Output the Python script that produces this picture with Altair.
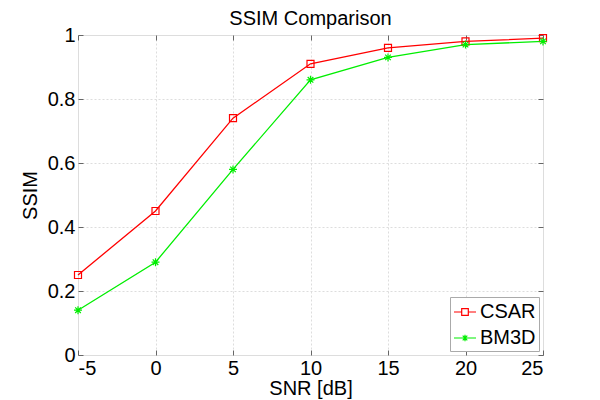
import altair as alt
import pandas as pd

snr = [-5, 0, 5, 10, 15, 20, 25]
csar = [0.25, 0.45, 0.74, 0.91, 0.96, 0.98, 0.99]
bm3d = [0.14, 0.29, 0.58, 0.86, 0.93, 0.97, 0.98]
series_names = ["CSAR", "BM3D"]
series_colors = ["#ff0000", "#00ee00"]
x_ticks = [-5, 0, 5, 10, 15, 20, 25]
y_ticks = [0, 0.2, 0.4, 0.6, 0.8, 1.0]

rows = []
for name, vals in zip(series_names, [csar, bm3d]):
    for s, v in zip(snr, vals):
        rows.append({"snr": s, "ssim": v, "series": name})
df = pd.DataFrame(rows)

W, H = 465, 320
FONT = "Liberation Sans"
FS = 20
xs = alt.Scale(domain=[-5, 25], nice=False, zero=False)
ys = alt.Scale(domain=[0, 1], nice=False)
cs = alt.Scale(domain=series_names, range=series_colors)

square = "M-1,-1H1V1H-1Z"
aster = "M0,-1V1M-1,0H1M-0.7,-0.7L0.7,0.7M-0.7,0.7L0.7,-0.7"
leg_square = "M-1,0H-0.3M0.3,0H1M-0.3,-0.3H0.3V0.3H-0.3Z"
leg_aster = "M-1,0H1M0,-0.3V0.3M-0.21,-0.21L0.21,0.21M-0.21,0.21L0.21,-0.21"


def tick_axis(orient, offset, values):
    return alt.Axis(orient=orient, offset=offset, values=values, labels=False,
                    grid=False, domain=False, ticks=True, tickSize=5,
                    tickColor="#666666", tickWidth=1, title=None)


def legend_def():
    return alt.Legend(orient="bottom-right", offset=4, title=None,
                      symbolSize=484, symbolStrokeWidth=1.2, symbolOpacity=1,
                      labelFontSize=FS, labelFont=FONT, labelColor="black",
                      labelOffset=3, fillColor="white", strokeColor="#aaaaaa",
                      padding=3, rowPadding=4)


base = alt.Chart(df)

legend_layer = base.mark_point(filled=False, opacity=0).encode(
    x=alt.X("snr:Q", scale=xs, axis=None),
    y=alt.Y("ssim:Q", scale=ys, axis=None),
    color=alt.Color("series:N", scale=cs, title=None, legend=legend_def()),
    shape=alt.Shape("series:N", title=None,
                    scale=alt.Scale(domain=series_names,
                                    range=[leg_square, leg_aster]),
                    legend=legend_def()),
)

line = base.mark_line(strokeWidth=1.3).encode(
    x=alt.X("snr:Q", scale=xs,
            axis=alt.Axis(values=x_ticks, labelExpr="toString(datum.value)",
                          title="SNR [dB]", grid=True,
                          gridDash=[2, 2], gridColor="#dddddd", ticks=False,
                          domain=False, labelFontSize=FS, labelFont=FONT,
                          labelColor="black", labelPadding=3, titleFont=FONT,
                          titleFontSize=FS, titleFontWeight="normal",
                          titleColor="black", titlePadding=0)),
    y=alt.Y("ssim:Q", scale=ys,
            axis=alt.Axis(values=y_ticks, format=".1~f", title="SSIM", grid=True,
                          gridDash=[2, 2], gridColor="#dddddd", ticks=False,
                          domain=False, labelFontSize=FS, labelFont=FONT,
                          labelColor="black", labelPadding=3, titleFont=FONT,
                          titleFontSize=FS, titleFontWeight="normal",
                          titleColor="black", titlePadding=7)),
    color=alt.Color("series:N", scale=cs, legend=None),
    detail="series:N",
)

pts_csar = base.transform_filter(alt.datum.series == "CSAR").mark_point(
    shape=square, size=49, filled=False, strokeWidth=1.2, opacity=1).encode(
    x=alt.X("snr:Q", scale=xs, axis=tick_axis("top", -H, x_ticks)),
    y=alt.Y("ssim:Q", scale=ys, axis=tick_axis("right", -W, y_ticks)),
    color=alt.Color("series:N", scale=cs, legend=None),
)

pts_bm3d = base.transform_filter(alt.datum.series == "BM3D").mark_point(
    shape=aster, size=64, filled=False, strokeWidth=1.2, opacity=1).encode(
    x=alt.X("snr:Q", scale=xs, axis=tick_axis("bottom", -H, x_ticks)),
    y=alt.Y("ssim:Q", scale=ys, axis=tick_axis("left", -W, y_ticks)),
    color=alt.Color("series:N", scale=cs, legend=None),
)

chart = alt.layer(legend_layer, line, pts_csar, pts_bm3d).resolve_axis(
    x="independent", y="independent"
).properties(
    width=W, height=H,
    title=alt.Title("SSIM Comparison", font=FONT, fontSize=FS,
                    fontWeight="normal", color="black", offset=-4),
    autosize=alt.AutoSizeParams(type="none"),
    padding={"left": 70, "top": 27, "right": 40, "bottom": 45},
).configure_view(stroke="#c8c8c8", strokeWidth=1.5).configure(background="white")

chart.save("out.html", embed_options={"renderer": "svg", "actions": False})
